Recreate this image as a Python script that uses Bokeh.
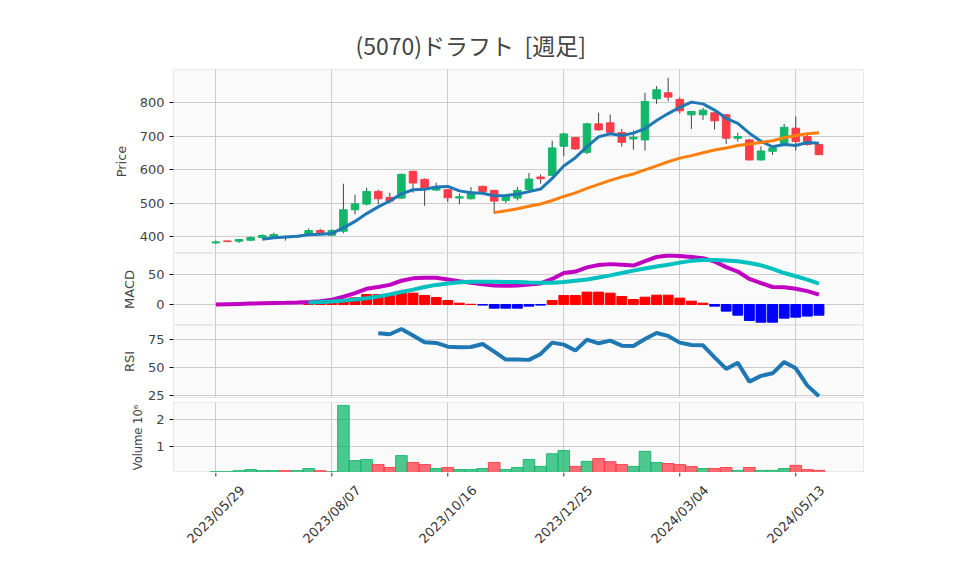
import math
import numpy as np
import pandas as pd
from bokeh.plotting import figure
from bokeh.layouts import column
from bokeh.models import ColumnDataSource, FixedTicker, Range1d
from bokeh.core.properties import value
from bokeh.embed import file_html
from bokeh.resources import INLINE

# ---------------- data (weekly) ----------------
start_date = "2023-05-29"
n_weeks = 53
dates = pd.date_range(start_date, periods=n_weeks, freq="7D")

opens = [381, 387, 386, 389, 397, 399, 400, 399, 406, 418, 404, 416, 480, 497, 535, 517, 515, 595, 571, 539,
         540, 515, 513, 550, 538, 508, 515, 540, 578, 583, 670, 696, 652, 737, 740, 711, 692, 689, 812, 830,
         810, 764, 764, 770, 764, 694, 689, 629, 655, 678, 724, 699, 675]
highs = [388, 387, 392, 400, 407, 412, 403, 404, 424, 423, 422, 558, 525, 546, 540, 531, 588, 597, 574, 561,
         542, 528, 548, 552, 540, 524, 548, 590, 586, 687, 710, 698, 740, 770, 765, 722, 717, 830, 850, 875,
         816, 776, 785, 773, 766, 710, 692, 670, 668, 737, 759, 705, 676]
lows = [378, 383, 381, 387, 396, 398, 388, 397, 404, 410, 403, 410, 466, 493, 496, 500, 513, 531, 492, 536,
        503, 496, 511, 532, 468, 500, 508, 530, 558, 580, 640, 660, 647, 717, 710, 669, 660, 657, 797, 805,
        768, 722, 749, 720, 677, 684, 628, 628, 644, 676, 657, 672, 644]
closes = [384, 385, 391, 397, 403, 406, 397, 402, 418, 412, 418, 480, 498, 535, 513, 506, 586, 560, 543, 545,
          516, 519, 533, 535, 506, 521, 538, 572, 573, 665, 707, 662, 737, 719, 712, 682, 697, 804, 839, 817,
          776, 774, 778, 746, 694, 699, 629, 656, 665, 727, 684, 675, 645]
volume_m = [0.03, 0.03, 0.07, 0.11, 0.07, 0.07, 0.07, 0.07, 0.15, 0.07, 0.03, 2.54, 0.45, 0.49, 0.30, 0.19,
            0.64, 0.38, 0.30, 0.15, 0.19, 0.11, 0.11, 0.15, 0.38, 0.11, 0.19, 0.49, 0.23, 0.71, 0.83, 0.23,
            0.42, 0.53, 0.41, 0.30, 0.23, 0.80, 0.38, 0.34, 0.30, 0.23, 0.15, 0.15, 0.19, 0.08, 0.19, 0.08,
            0.08, 0.15, 0.27, 0.11, 0.08]
macd_line = [0, 0.5, 1, 1.5, 2, 2.5, 2.8, 3.2, 4, 5.5, 8, 13, 19, 26.5, 29.5, 33, 40, 44, 45, 45,
             42, 39, 36.5, 34, 32, 31.5, 32, 33.5, 35.5, 43, 53, 55.5, 62.5, 66.5, 68, 67, 65.5, 73, 80, 82.5,
             81.5, 80, 78, 72.5, 63, 55.5, 43, 36, 29.5, 29, 26.5, 22.5, 16.5]
signal_line = [None] * 8 + [3.4, 4.2, 5.2, 6.5, 8.5, 10.5, 13.5, 17, 21, 25, 29.5, 33, 35.5, 37.5, 38.5, 38.5,
                            38.5, 38, 38, 37, 36.5, 36.5, 38, 40, 42, 45.5, 49, 53, 57, 60.5, 64, 67, 70.5,
                            73.5, 75, 75, 74, 73, 70, 66, 60, 53, 47.5, 42, 35]
macd_hist = [None] * 8 + [3.9, 5.1, 6, 7.9, 11.2, 16.8, 16.8, 15.2, 19.1, 19.1, 15.2, 11.8, 6.7, 2.2, 0.3, -1,
                          -6.2, -6.2, -6.2, -2.8, -1, 6.7, 15.2, 15.2, 20.8, 20.8, 19.1, 13.5, 8.4, 12.3, 15.7,
                          15.7, 10.7, 5.6, 2.2, -2.8, -11.2, -18, -27, -29.8, -29.8, -23, -21.3, -19.6, -18]
rsi_line = [None] * 14 + [80.9, 80, 84.7, 78.8, 72.8, 72.2, 68.9, 68.3, 68.6, 71.3, 64.5, 57.4, 57.5, 57.1,
                          62.4, 72.5, 70.7, 65.4, 75.2, 71.9, 74.3, 69.8, 69.5, 75.8, 81.1, 78.5, 72.5, 70.4,
                          70.1, 59.4, 49, 54.6, 37.7, 42.8, 45.1, 55.2, 49.6, 34.1, 24.6]
tick_labels = ["2023/05/29", "2023/08/07", "2023/10/16", "2023/12/25", "2024/03/04", "2024/05/13"]

# ---------------- derived ----------------
UP = "#12b76a"
DOWN = "#ff3b47"
close_s = pd.Series(closes, dtype=float)
ma5 = close_s.rolling(5).mean()
ma25 = close_s.rolling(25).mean()


def nan(lst):
    return [float("nan") if v is None else v for v in lst]


hist_vals = nan(macd_hist)
src = ColumnDataSource(dict(
    date=dates,
    open=opens, high=highs, low=lows, close=closes,
    top=[max(o, c) for o, c in zip(opens, closes)],
    bottom=[min(o, c) for o, c in zip(opens, closes)],
    ccolor=[UP if c >= o else DOWN for o, c in zip(opens, closes)],
    vol=volume_m,
    vcolor=[UP if (i == 0 or closes[i] >= closes[i - 1]) else DOWN for i in range(n_weeks)],
    ma5=ma5, ma25=ma25,
    macd=macd_line, signal=nan(signal_line), hist=hist_vals,
    hcolor=["red" if (v == v and v >= 0) else "blue" for v in hist_vals],
    rsi=nan(rsi_line),
))

week = 7 * 24 * 3600 * 1000
x0 = dates[0] - pd.Timedelta(days=7 * 3.65)
x1 = dates[0] + pd.Timedelta(days=7 * 55.84)
xr = Range1d(x0, x1)
tick_ms = [pd.Timestamp(d.replace("/", "-")).value // 10**6 for d in tick_labels]

FRAME_W = 690
LEFT = 173
RIGHT = 85
AX_FONT = "DejaVu Sans"


def make_fig(h, yr, yticks, ylabel, top=0, bottom=0):
    p = figure(x_axis_type="datetime", frame_width=FRAME_W, frame_height=h, x_range=xr,
               y_range=Range1d(*yr), output_backend="svg", toolbar_location=None,
               min_border_left=LEFT, min_border_right=RIGHT, min_border_top=top,
               min_border_bottom=bottom)
    p.background_fill_color = "#fafafa"
    p.border_fill_color = "white"
    p.outline_line_color = "#e8e8e8"
    p.xgrid.ticker = FixedTicker(ticks=tick_ms)
    p.grid.grid_line_color = "#cccccc"
    p.grid.grid_line_width = 1
    p.xaxis.visible = False
    p.yaxis.ticker = FixedTicker(ticks=yticks)
    p.yaxis.axis_line_color = None
    p.yaxis.minor_tick_line_color = None
    p.yaxis.major_tick_out = 4
    p.yaxis.major_tick_in = 0
    p.yaxis.major_label_text_font = AX_FONT
    p.yaxis.major_label_text_font_size = "13px"
    p.yaxis.axis_label = ylabel
    p.yaxis.axis_label_text_font = AX_FONT
    p.yaxis.axis_label_text_font_style = "normal"
    p.yaxis.axis_label_text_font_size = "13px"
    p.yaxis.axis_label_standoff = 8
    return p


# price
p1 = make_fig(184, (349.3, 899.6), [400, 500, 600, 700, 800], "Price", top=69)
p1.title.text = "(5070)ドラフト\u00a0 [週足]"
p1.title.align = "left"
p1.title.offset = 182
p1.title.text_font = "Noto Sans CJK JP"
p1.title.text_font_size = "23px"
p1.title.text_font_style = "normal"
p1.title.standoff = 16
p1.segment(x0="date", y0="low", x1="date", y1="high", source=src, color="#444444", line_width=1)
p1.vbar(x="date", width=0.65 * week, top="top", bottom="bottom", source=src,
        fill_color="ccolor", line_color="ccolor")
p1.line(x="date", y="ma5", source=src, line_color="#1f77b4", line_width=3)
p1.line(x="date", y="ma25", source=src, line_color="#ff7f0e", line_width=3)

# MACD
p2 = make_fig(72, (-35.4, 85.9), [0, 50], "MACD")
p2.vbar(x="date", width=0.85 * week, top="hist", bottom=0, source=src,
        fill_color="hcolor", line_color="hcolor")
p2.line(x="date", y="macd", source=src, line_color="#c000c0", line_width=4)
p2.line(x="date", y="signal", source=src, line_color="#00c0c0", line_width=4)

# RSI
p3 = make_fig(72, (23.5, 87.8), [25, 50, 75], "RSI", bottom=5)
p3.line(x="date", y="rsi", source=src, line_color="#1f77b4", line_width=4)

# Volume
p4 = make_fig(70, (0, 2.65), [1, 2], "Volume 10⁶")
p4.yaxis.axis_label_text_font_size = "11.5px"
p4.vbar(x="date", width=week, top="vol", bottom=0, source=src,
        fill_color="vcolor", fill_alpha=0.75, line_color="vcolor", line_alpha=0.9)

# date axis strip: tick marks + rotated labels centred on the ticks (y in pixels)
AX_H = 80
p5 = figure(frame_width=FRAME_W, frame_height=AX_H, x_range=xr, y_range=Range1d(0, AX_H),
            output_backend="svg", toolbar_location=None, min_border_left=LEFT,
            min_border_right=RIGHT, min_border_top=0, min_border_bottom=0)
p5.xaxis.visible = False
p5.yaxis.visible = False
p5.grid.visible = False
p5.outline_line_color = None
p5.background_fill_color = "white"
p5.border_fill_color = "white"
tsrc = ColumnDataSource(dict(x=tick_ms, text=tick_labels))
p5.segment(x0="x", y0=AX_H, x1="x", y1=AX_H - 4, source=tsrc, line_color="#333333", line_width=1)
p5.text(x="x", y=AX_H - 42, text="text", source=tsrc, angle=math.pi / 4, text_align="center",
        text_baseline="middle", text_font=value(AX_FONT), text_font_size=value("13px"),
        text_color="#333333")

layout = column(p1, p2, p3, p4, p5, spacing=0)
open("out.html", "w").write(file_html(layout, INLINE))
